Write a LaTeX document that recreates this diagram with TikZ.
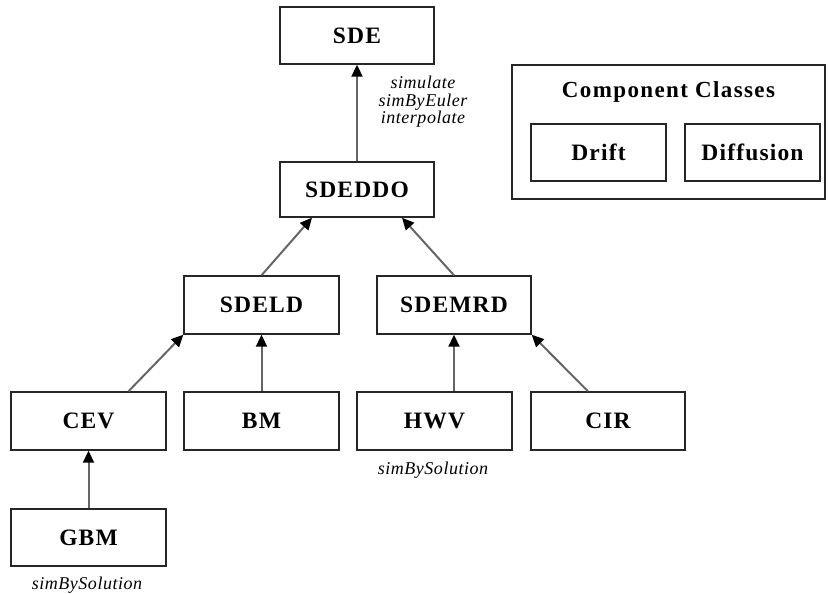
\documentclass[tikz,border=0pt]{standalone}
\usepackage{fontspec}
\setmainfont{Liberation Serif}
\usetikzlibrary{arrows.meta}
\begin{document}
\begin{tikzpicture}[x=1pt,y=-1pt,
  cls/.style={draw=black!85,line width=1.4pt,minimum width=154pt,minimum height=57pt,inner sep=0pt,font=\bfseries\fontsize{23.5}{26}\selectfont\addfontfeature{LetterSpace=5}},
  comp/.style={cls,minimum width=135pt},
  lbl/.style={font=\itshape\fontsize{18}{17.5}\selectfont\addfontfeature{LetterSpace=3},align=center,inner sep=0pt},
  inh/.style={draw=black!60,line width=2pt,-{Triangle[length=12pt,width=11pt,color=black]}}]
\useasboundingbox (0,0) rectangle (828,594);
\node[cls] (SDE) at (357,35.5) {SDE};
\node[cls,minimum height=55pt] (SDEDDO) at (357,189.5) {SDEDDO};
\node[cls,minimum width=155pt,minimum height=58pt] (SDELD) at (261.5,305) {SDELD};
\node[cls,minimum height=58pt] (SDEMRD) at (454,305) {SDEMRD};
\node[cls,minimum width=155pt,minimum height=58pt] (CEV) at (88.5,421) {CEV};
\node[cls,minimum width=155pt,minimum height=58pt] (BM) at (261.5,421) {BM};
\node[cls,minimum width=155pt,minimum height=58pt] (HWV) at (434.5,421) {HWV};
\node[cls,minimum height=58pt] (CIR) at (608,421) {CIR};
\node[cls,minimum width=155pt] (GBM) at (88.5,537.5) {GBM};
\node[draw=black!85,line width=1.4pt,minimum width=313pt,minimum height=134pt,inner sep=0pt] (grp) at (668.5,132) {};
\node[font=\bfseries\fontsize{23}{24}\selectfont\addfontfeature{LetterSpace=6}] (title) at (668.5,92) {Component Classes};
\node[comp] (Drift) at (598.5,152.5) {Drift};
\node[comp] (Diffusion) at (752.5,152.5) {Diffusion};
\node[lbl] (sdem) at (423,102) {simulate\\simByEuler\\interpolate};
\node[lbl] (hwvm) at (433,470) {simBySolution};
\node[lbl] (gbmm) at (87,585) {simBySolution};
\draw[inh] (SDEDDO.north) -- (SDE.south);
\draw[inh] (SDELD.north) -- ([xshift=-45pt]SDEDDO.south);
\draw[inh] (SDEMRD.north) -- ([xshift=45pt]SDEDDO.south);
\draw[inh] ([xshift=40pt]CEV.north) -- (SDELD.south west);
\draw[inh] (BM.north) -- (SDELD.south);
\draw[inh] ([xshift=19.5pt]HWV.north) -- (SDEMRD.south);
\draw[inh] ([xshift=-20pt]CIR.north) -- (SDEMRD.south east);
\draw[inh] (GBM.north) -- (CEV.south);
\end{tikzpicture}
\end{document}
